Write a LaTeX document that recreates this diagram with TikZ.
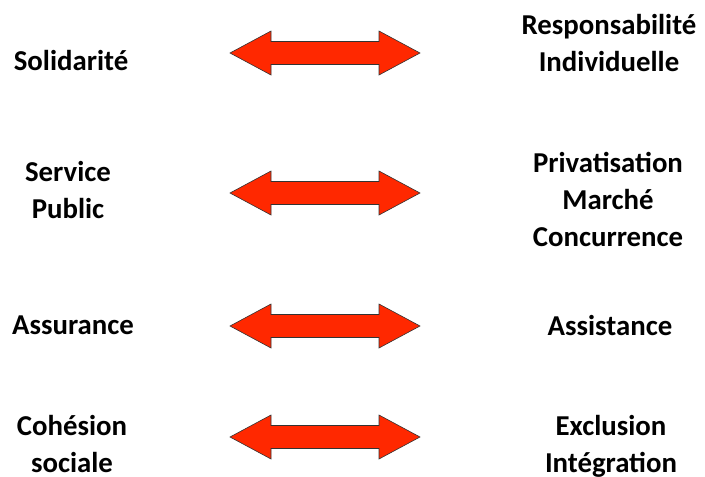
\documentclass[tikz,border=0pt]{standalone}
\usepackage{fontspec}
\setmainfont{Carlito}
\usepackage{tikz}
\definecolor{arrowred}{RGB}{255,40,0}

\begin{document}
\begin{tikzpicture}[x=1pt,y=1pt,
  lbl/.style={align=center,inner sep=0pt,font=\bfseries\fontsize{28.8}{37}\selectfont},
  dblarrow/.style={draw=black!80,line width=0.6pt,fill=arrowred,line join=miter}]
\useasboundingbox (0,-477) rectangle (705,0);
% left column
\node[lbl] (soli) at (71,-60) {Solidarité};
\node[lbl] (serv) at (68,-190) {Service\\Public};
\node[lbl] (assu) at (73,-325) {Assurance};
\node[lbl] (cohe) at (72,-444) {Cohésion\\sociale};
% right column
\node[lbl] (resp) at (609,-43) {Responsabilité\\Individuelle};
\node[lbl] (priv) at (608,-199) {Privatisation\\Marché\\Concurrence};
\node[lbl] (assi) at (610,-325) {Assistance};
\node[lbl] (excl) at (611,-446) {Exclusion\\Intégration};
% arrows
\foreach \y in {-53,-193,-326,-437}
  \draw[dblarrow] (230,\y) -- (271,\y+22) -- (271,\y+11.5) -- (379,\y+11.5) -- (379,\y+22)
    -- (420,\y) -- (379,\y-22) -- (379,\y-11.5) -- (271,\y-11.5) -- (271,\y-22) -- cycle;
\end{tikzpicture}
\end{document}
